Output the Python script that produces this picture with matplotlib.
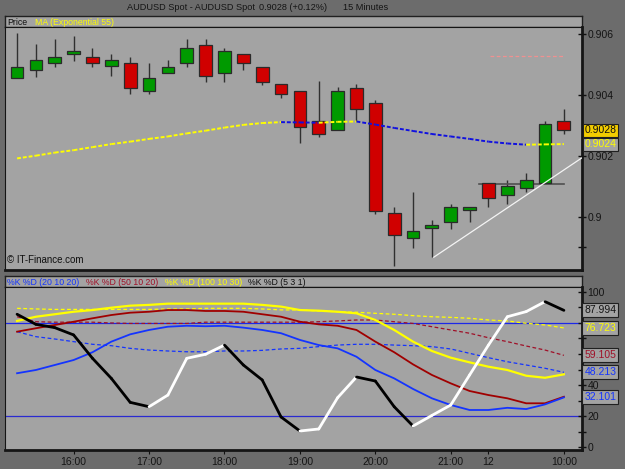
import matplotlib
matplotlib.use("Agg")
import matplotlib.pyplot as plt
import matplotlib.transforms as mtransforms

# candles, 15 minute bars
opens = [0.90455, 0.90483, 0.90504, 0.90533, 0.90524, 0.90494, 0.90504, 0.90413, 0.90472, 0.90504,
         0.90565, 0.90472, 0.90534, 0.90493, 0.90435, 0.90414, 0.90315, 0.90284, 0.90424, 0.90374,
         0.90012, 0.89932, 0.89963, 0.89982, 0.90022, 0.90110, 0.90072, 0.90094, 0.90110, 0.90315]
highs = [0.90604, 0.90567, 0.90584, 0.90594, 0.90555, 0.90534, 0.90524, 0.90504, 0.90514, 0.90584,
         0.90584, 0.90555, 0.90534, 0.90493, 0.90435, 0.90414, 0.90446, 0.90427, 0.90435, 0.90384,
         0.90031, 0.90083, 0.89991, 0.90042, 0.90032, 0.90110, 0.90121, 0.90143, 0.90315, 0.90353]
lows = [0.90455, 0.90460, 0.90493, 0.90512, 0.90493, 0.90461, 0.90403, 0.90403, 0.90472, 0.90493,
        0.90444, 0.90444, 0.90482, 0.90433, 0.90391, 0.90241, 0.90261, 0.90284, 0.90315, 0.90010,
        0.89840, 0.89899, 0.89868, 0.89961, 0.89982, 0.90032, 0.90041, 0.90083, 0.90110, 0.90271]
closes = [0.90493, 0.90514, 0.90524, 0.90543, 0.90504, 0.90514, 0.90424, 0.90455, 0.90493, 0.90554,
          0.90462, 0.90544, 0.90504, 0.90444, 0.90403, 0.90294, 0.90273, 0.90414, 0.90353, 0.90020,
          0.89942, 0.89953, 0.89973, 0.90032, 0.90032, 0.90062, 0.90102, 0.90120, 0.90304, 0.90284]

# MA (Exponential 55)
ema55 = [0.90192, 0.90201, 0.90211, 0.90219, 0.90229, 0.90239, 0.90247, 0.90256, 0.90264, 0.90274,
         0.90283, 0.90293, 0.90302, 0.90308, 0.90311, 0.90310, 0.90309, 0.90312, 0.90313, 0.90303,
         0.90292, 0.90282, 0.90272, 0.90264, 0.90256, 0.90247, 0.90241, 0.90237, 0.90238, 0.90239]

# stochastics
k5 = [85.5, 79, 76.9, 72.2, 57.2, 44.3, 28.9, 26.1, 33.6, 57.2,
      59.8, 65.7, 52.9, 43.3, 19.5, 10.5, 11.8, 31.9, 45.2, 42.6,
      26.1, 13.7, 20.5, 27.2, 46.5, 65.7, 83.9, 87.2, 93.6, 88.0]
k20 = [47.6, 49.7, 52.9, 56.1, 61.1, 67.9, 72.6, 75.4, 77.5, 78.1,
       77.8, 78.1, 76.9, 75.4, 73.3, 69, 65.7, 63.6, 58.2, 49.7,
       44.3, 37.5, 31.5, 27.2, 24, 24, 25.4, 24.6, 27.6, 32.1]
d20 = [74.3, 71.1, 69.6, 67.9, 66.2, 65.3, 63.6, 62.5, 61.9, 61.4,
       61.4, 61.9, 61.9, 62.3, 63.2, 63.6, 64.7, 65.7, 66.2, 66.2,
       65.7, 65.3, 64.7, 63.2, 60.4, 57.6, 55, 52.9, 50.8, 48.2]
k50 = [74.3, 76.5, 78.6, 80.7, 82.9, 85, 86.5, 87.1, 88.2, 88.2,
       87.6, 87.6, 87.1, 85.5, 83.9, 80.7, 79, 78.1, 75.4, 67.9,
       61.1, 53.3, 46.5, 41.1, 36.2, 33.6, 31.5, 28.3, 28.3, 32.5]
d50 = [83.9, 80.7, 80.4, 80.4, 80.4, 79.9, 79.6, 79.6, 79.6, 79.6,
       80.4, 80.4, 80.4, 80.4, 80.4, 80.4, 80.7, 81.2, 81.8, 81.8,
       80.7, 79.6, 77.5, 75.4, 73.3, 70.4, 67.9, 65.1, 62.5, 59.1]
k100 = [81.2, 83.9, 85.5, 87.1, 88.2, 89.7, 91, 91.5, 92.3, 92.3,
        92.3, 92.3, 92.3, 91.5, 90.4, 88.2, 87.8, 87.1, 86.1, 81.8,
        75.4, 67.9, 61.9, 57.6, 54.6, 51.8, 49.7, 46, 44.7, 46.9]
d100 = [89.3, 88.9, 88.6, 88.6, 88.6, 88.6, 88.6, 88.6, 88.9, 88.9,
        89.3, 89.3, 89.3, 88.9, 88.3, 88.2, 87.6, 87.1, 86.8, 86.1,
        85.5, 84.6, 83.9, 83.5, 82.9, 81.8, 81.2, 79.7, 78.6, 76.7]

tick_pos = [3, 7, 11, 15, 19, 23, 25, 29]
tick_labels = ["16:00", "17:00", "18:00", "19:00", "20:00", "21:00", "12", "10:00"]

FIG_BG = "#6c6c6c"
PANEL = "#a3a3a3"
GREEN = "#009a00"
RED = "#d00000"
BLUE = "#1434ff"
DRED = "#a01028"
YEL = "#ffff00"
FONT = "Liberation Sans"

plt.rcParams["font.family"] = FONT

fig = plt.figure(figsize=(6.25, 4.69), dpi=100, facecolor=FIG_BG)
W, H = 625.0, 469.0


def box(x0, y0, x1, y1):
    return [x0 / W, 1 - y1 / H, (x1 - x0) / W, (y1 - y0) / H]


def header(rect, parts):
    hx = fig.add_axes(rect, facecolor=PANEL)
    hx.set_xticks([])
    hx.set_yticks([])
    for s in hx.spines.values():
        s.set_color("#202020")
        s.set_linewidth(1)
    for x, txt, col in parts:
        hx.text(x, 0.45, txt, color=col, fontsize=6.3, va="center", ha="left",
                transform=mtransforms.blended_transform_factory(fig.transFigure, hx.transAxes))
    return hx


for x, txt in [(127, "AUDUSD Spot - AUDUSD Spot"), (259, "0.9028 (+0.12%)"), (343, "15 Minutes")]:
    fig.text(x / W, 1 - 8 / H, txt, ha="left", va="center", fontsize=6.6, color="#141414")

# ---- price panel ----
header(box(5, 16, 582, 27), [(7 / W, "Price", "#101010"), (35 / W, "MA (Exponential 55)", YEL)])
ax = fig.add_axes(box(5, 27, 582, 270), facecolor=PANEL)
idx = list(range(len(closes)))

for i in idx:
    ax.vlines(i, lows[i], highs[i], color="#303030", lw=1, zorder=2)
bcol = [GREEN if c >= o else RED for o, c in zip(opens, closes)]
hgt = [max(abs(c - o), 0.00002) for o, c in zip(opens, closes)]
bot = [min(o, c) for o, c in zip(opens, closes)]
ax.bar(idx, hgt, bottom=bot, width=0.68, color=bcol, edgecolor="#2a2a2a", lw=0.9, zorder=3)

for i in range(len(ema55) - 1):
    col = YEL if ema55[i + 1] >= ema55[i] else "#1010e0"
    ax.plot([i, i + 1], [ema55[i], ema55[i + 1]], color=col, lw=1.4, ls=(0, (2, 1)), zorder=4)

ax.plot([25.1, 29.0], [0.90529, 0.90529], color="#f09090", lw=0.9, ls=(0, (3, 2)), zorder=2)
ax.plot([24.5, 29.0], [0.90109, 0.90109], color="#505050", lw=1.2, zorder=2)
ax.plot([22.1, 29.96], [0.89868, 0.90194], color="#f4f4f4", lw=0.9, zorder=4)

ax.set_xlim(-0.64, 29.96)
ax.set_ylim(0.89826, 0.90623)
ax.set_xticks([])
ax.yaxis.tick_right()
ax.set_yticks([0.906, 0.904, 0.902, 0.900, 0.899])
ax.set_yticklabels(["0.906", "0.904", "0.902", "0.9", ""])
ax.tick_params(axis="y", direction="inout", length=6, width=1, color="#101010",
               labelsize=7.5, labelcolor="#141414", pad=1)
for s in ax.spines.values():
    s.set_color("#151515")
ax.spines["right"].set_linewidth(2)
ax.spines["bottom"].set_linewidth(2)
ax.text(7 / W, 0.02, "\u00a9 IT-Finance.com", fontsize=7, color="#101010", va="bottom",
        transform=mtransforms.blended_transform_factory(fig.transFigure, ax.transAxes))

rt = mtransforms.blended_transform_factory(ax.transAxes, ax.transData)
ax.text(1.004, closes[-1], "0.9028", transform=rt, fontsize=7.5, color="#101010", va="center",
        ha="left", zorder=6, clip_on=False,
        bbox=dict(boxstyle="square,pad=0.15", fc="#f2cc00", ec="#202020", lw=0.8))
ax.text(1.004, ema55[-1], "0.9024", transform=rt, fontsize=7.5, color=YEL, va="center",
        ha="left", zorder=6, clip_on=False,
        bbox=dict(boxstyle="square,pad=0.15", fc=PANEL, ec="#202020", lw=0.8))

# ---- stochastic panel ----
header(box(5, 276, 582, 287), [(7 / W, "%K %D (20 10 20)", BLUE), (86 / W, "%K %D (50 10 20)", DRED),
                               (165 / W, "%K %D (100 10 30)", YEL), (248 / W, "%K %D (5 3 1)", "#101010")])
bx = fig.add_axes(box(5, 287, 582, 450), facecolor=PANEL)

bx.axhline(80, color="#1c28e8", lw=0.9, zorder=1)
bx.axhline(20, color="#2a2ad0", lw=0.9, zorder=1)

bx.plot(idx, d100, color=YEL, lw=0.9, ls=(0, (3, 2)), zorder=2)
bx.plot(idx, d50, color=DRED, lw=0.9, ls=(0, (3, 2)), zorder=2)
bx.plot(idx, d20, color=BLUE, lw=0.9, ls=(0, (3, 2)), zorder=2)
bx.plot(idx, k100, color=YEL, lw=1.6, zorder=3)
bx.plot(idx, k50, color="#a00000", lw=1.3, zorder=3)
bx.plot(idx, k20, color=BLUE, lw=1.3, zorder=3)
for i in range(len(k5) - 1):
    col = "#ffffff" if k5[i + 1] >= k5[i] else "#000000"
    bx.plot([i, i + 1], [k5[i], k5[i + 1]], color=col, lw=2, zorder=4, solid_capstyle="round")

bx.set_xlim(-0.64, 29.96)
bx.set_ylim(-1.7, 103)
bx.set_xticks(tick_pos)
bx.set_xticklabels(tick_labels)
bx.tick_params(axis="x", direction="out", length=3, color="#101010", labelsize=7.5,
               labelcolor="#141414", pad=2)
bx.yaxis.tick_right()
bx.set_yticks([0, 20, 40, 60, 80, 100])
bx.set_yticklabels(["0", "20", "40", "", "", "100"])
bx.set_yticks([10, 30, 50, 70, 90], minor=True)
bx.tick_params(axis="y", which="both", direction="inout", length=6, width=1, color="#101010",
               labelsize=7.5, labelcolor="#141414", pad=1)
for s in bx.spines.values():
    s.set_color("#151515")
bx.spines["right"].set_linewidth(2)
bx.spines["bottom"].set_linewidth(2)

rt2 = mtransforms.blended_transform_factory(bx.transAxes, bx.transData)
for val, txt, col in [(88.0, "87.994", "#141414"), (76.723, "76.723", YEL), (59.105, "59.105", DRED),
                      (48.213, "48.213", BLUE), (32.101, "32.101", BLUE)]:
    bx.text(1.004, val, txt, transform=rt2, fontsize=7.5, color=col, va="center", ha="left",
            zorder=6, clip_on=False,
            bbox=dict(boxstyle="square,pad=0.2", fc=PANEL, ec="#202020", lw=0.8))

fig.savefig("out.png", dpi=100, facecolor=FIG_BG)
